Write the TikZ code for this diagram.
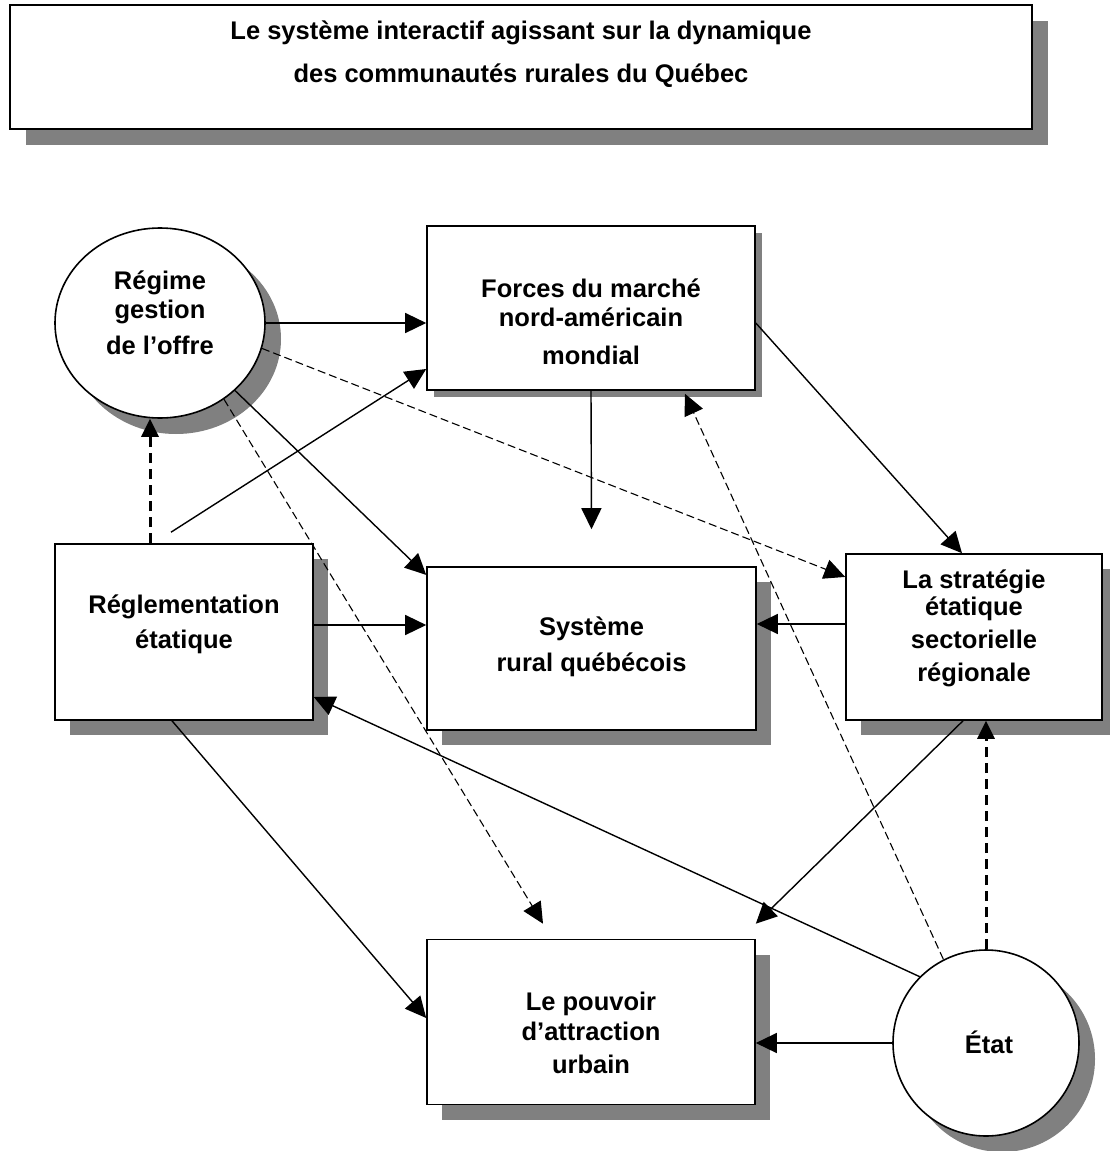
\documentclass[tikz,border=0pt]{standalone}
\usepackage{fontspec}
\setmainfont{Liberation Sans}
\usetikzlibrary{positioning, shapes.geometric, shadows, arrows.meta}

\begin{document}
\begin{tikzpicture}[x=1pt, y=-1pt,
    box/.style={rectangle, draw, line width=1.6pt, fill=white, inner sep=0pt},
    oval/.style={ellipse, draw, line width=1.6pt, fill=white, inner sep=0pt},
    boxshadow/.style={drop shadow={opacity=1, fill=gray, shadow xshift=#1, shadow yshift=-#1}},
    boxshadow/.default=15pt,
    txt/.style={align=center, font=\bfseries\fontsize{25.5}{29}\selectfont},
    arr/.style={-{Triangle[length=21pt, width=20pt]}, line width=1.4pt},
    darr/.style={arr, line width=1.1pt, dash pattern=on 8pt off 4pt},
    tarr/.style={-{Triangle[length=18pt, width=17pt]}, line width=3pt, dash pattern=on 10pt off 6pt}
  ]
  \useasboundingbox (0,0) rectangle (1109,1151);

  % Title
  \node[box, boxshadow=16pt, minimum width=1022pt, minimum height=124pt] (title) at (521,67) {};
  \node[txt] (titleTxt) at (521,54) {Le système interactif agissant sur la dynamique\\[14pt]
    des communautés rurales du Québec};

  % Shapes of the system
  \node[oval, boxshadow=16pt, minimum width=210pt, minimum height=190pt] (regime) at (160,323) {};
  \node[box, boxshadow=7pt, minimum width=328pt, minimum height=164pt] (forces) at (591,308) {};
  \node[box, boxshadow, minimum width=258pt, minimum height=176pt] (regl) at (184,632) {};
  \node[box, boxshadow, minimum width=329pt, minimum height=163pt] (sys) at (591.5,648.5) {};
  \node[box, boxshadow, minimum width=256pt, minimum height=166pt] (strat) at (974,637) {};
  \node[box, boxshadow, minimum width=328pt, minimum height=165pt] (pouv) at (591,1022) {};
  \node[circle, draw, line width=1.6pt, fill=white, inner sep=0pt, boxshadow=16pt,
    minimum size=186pt] (etat) at (986,1043) {};

  % Labels
  \node[txt] (regimeTxt) at (160,313) {Régime\\ gestion\\[7pt] de l’offre};
  \node[txt] (forcesTxt) at (591,322) {Forces du marché\\ nord-américain\\[9pt] mondial};
  \node[txt] (reglTxt) at (184,624) {Réglementation\\[6pt] étatique};
  \node[txt] (sysTxt) at (591.5,647) {Système\\[7pt] rural québécois};
  \node[txt] (stratTxt) at (974,628) {La stratégie\\[-2pt] étatique\\[4pt] sectorielle\\[4pt] régionale};
  \node[txt] (pouvTxt) at (591,1033) {Le pouvoir\\[1pt] d’attraction\\[4pt] urbain};
  \node[txt] (etatTxt) at (989,1042) {État};

  % Solid influences
  \draw[arr] (regime.east) -- (regime.east -| forces.west);
  \draw[arr] (regime.-42) -- (sys.156.5);
  \draw[arr] ([xshift=-13pt, yshift=11pt]regl.north) -- ([yshift=-61pt]forces.west);
  \draw[arr] ([yshift=7pt]regl.east) -- ([yshift=7pt]regl.east -| sys.west);
  \draw[arr] ([xshift=-12pt]regl.south) -- ([yshift=4pt]pouv.west);
  \draw[arr] (forces.south) -- ([yshift=37pt]sys.north);
  \draw[arr] ([yshift=-15pt]forces.east) -- ([xshift=-12pt]strat.north);
  \draw[arr] ([yshift=13pt]strat.west) -- ([yshift=13pt]strat.west -| sys.east);
  \draw[arr] ([xshift=-11pt]strat.south) -- ([yshift=15pt]pouv.north east);
  \draw[arr] (etat.135) -- ([yshift=-65pt]regl.east);
  \draw[arr] (etat.west) -- (etat.west -| pouv.east);

  % Dashed influences
  \draw[tarr] ([xshift=-34pt]regl.north) -- ([xshift=-34pt]regl.north |- regime.south);
  \draw[tarr] (etat.north) -- (etat.north |- strat.south);
  \draw[darr] (regime.-14) -- (strat.155);
  \draw[darr] (regime.-50) -- ([xshift=-48pt, yshift=15pt]pouv.north);
  \draw[darr] (etat.117) -- ([xshift=94pt, yshift=-3pt]forces.south);
\end{tikzpicture}
\end{document}
